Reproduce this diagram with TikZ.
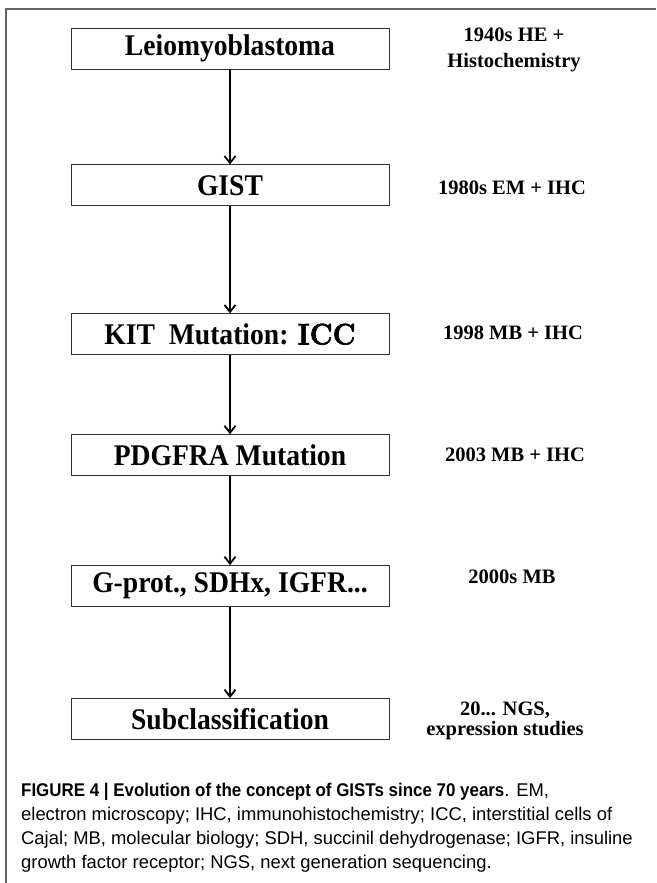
\documentclass[tikz,border=0pt]{standalone}
\usepackage{graphicx}
\usepackage{fontspec}
\setmainfont{Liberation Serif}
\newfontfamily\capfont{Liberation Sans}
\newfontfamily\iccfont{lmroman10-bold.otf}[FakeBold=2]
\usetikzlibrary{positioning, arrows.meta}
\newcommand{\stagetext}[1]{\scalebox{0.92}[1]{#1}}
\tikzset{
->, % connectors point down the time line
>={Straight Barb[length=7pt,width=11pt]}, % open barb heads
stage/.style={draw=black!80, line width=0.9pt, minimum width=318pt, minimum height=41pt, inner sep=0pt, font=\fontsize{30}{32}\selectfont\bfseries}, % one box per concept
era/.style={align=center, font=\fontsize{20.5}{26}\selectfont\bfseries}, % dates and methods on the right
capline/.style={anchor=west, inner sep=0pt, font=\capfont\fontsize{18.4}{22}\selectfont}, % one line of the legend
}

\begin{document}
\begin{tikzpicture}[x=1pt, y=-1pt]
\useasboundingbox (0,0) rectangle (656,883);
\draw[-, line width=1.5pt, black!60] (6,883) -- (6,9) -- (656,9);
\node[stage] (leio) at (230,48.5) {\stagetext{Leiomyoblastoma}};
\node[stage, below=95pt of leio] (gist) {\stagetext{GIST}};
\node[stage, below=107pt of gist] (kit) {\stagetext{KIT\ \ Mutation: {\iccfont\mdseries ICC}}};
\node[stage, below=79pt of kit] (pdgf) {\stagetext{PDGFRA Mutation}};
\node[stage, below=89pt of pdgf] (gprot) {\stagetext{G-prot., SDHx, IGFR...}};
\node[stage, below=91pt of gprot] (subcl) {\stagetext{Subclassification}};
\draw[line width=1.8pt] (leio) edge (gist)
(gist) edge (kit)
(kit) edge (pdgf)
(pdgf) edge (gprot)
(gprot) edge (subcl);
\node[era] (e1940) at (514,50) {1940s HE +\\Histochemistry};
\node[era] (e1980) at (512,188) {1980s EM + IHC};
\node[era] (e1998) at (513,333) {1998 MB + IHC};
\node[era] (e2003) at (515,455) {2003 MB + IHC};
\node[era] (e2000) at (512,577) {2000s MB};
\node[era, font=\fontsize{20.5}{20}\selectfont\bfseries] (e20xx) at (505,721) {20... NGS,\\expression studies};
\node[capline] (cap1) at (21,792) {\scalebox{0.92}[1]{\bfseries FIGURE 4 | Evolution of the concept of GISTs since 70 years}. EM,};
\node[capline] (cap2) at (21,816) {electron microscopy; IHC, immunohistochemistry; ICC, interstitial cells of};
\node[capline] (cap3) at (21,840) {Cajal; MB, molecular biology; SDH, succinil dehydrogenase; IGFR, insuline};
\node[capline] (cap4) at (21,864) {growth factor receptor; NGS, next generation sequencing.};
\end{tikzpicture}
\end{document}
